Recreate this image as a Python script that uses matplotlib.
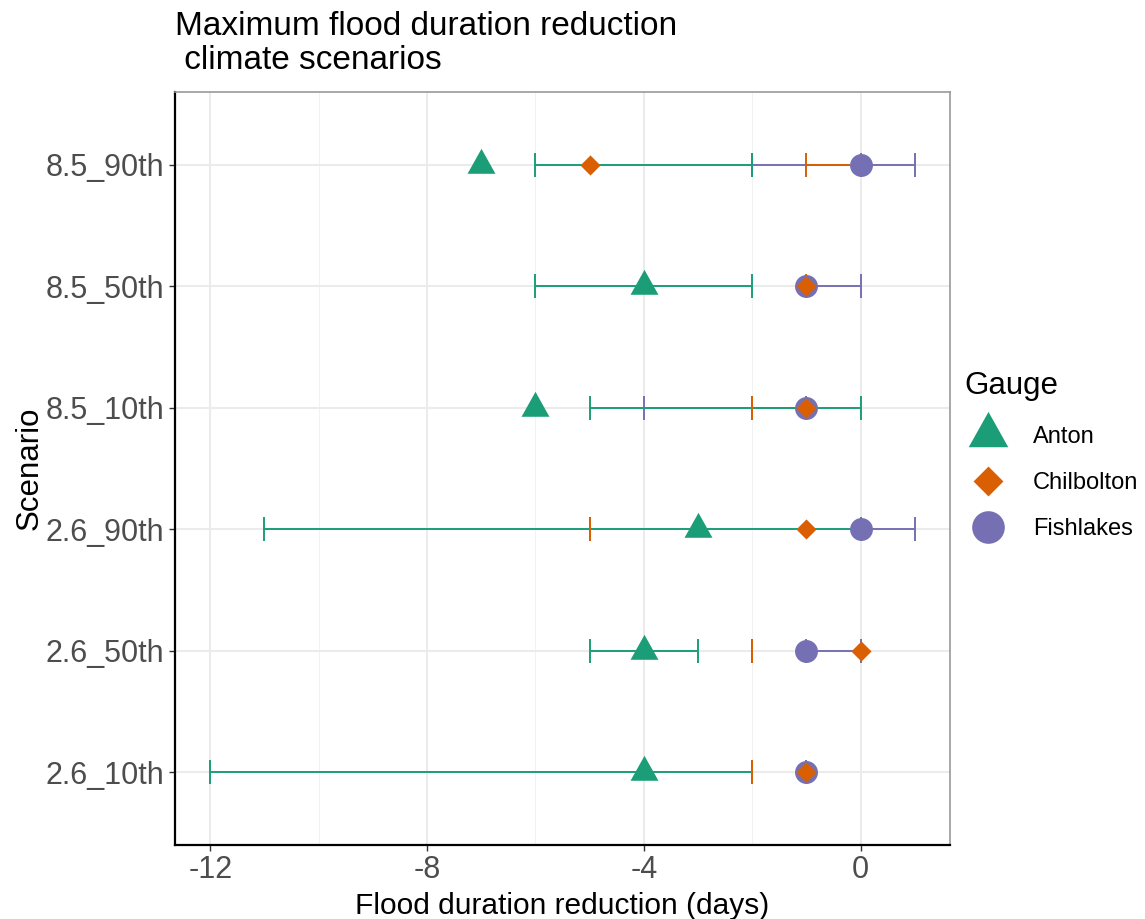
import matplotlib
matplotlib.use("Agg")
import matplotlib.pyplot as plt
from matplotlib.lines import Line2D
import numpy as np

plt.rcParams['font.family'] = ['Liberation Sans', 'DejaVu Sans']

# Scenarios, bottom to top
scenarios = ["2.6_10th", "2.6_50th", "2.6_90th", "8.5_10th", "8.5_50th", "8.5_90th"]

anton_val = [-4, -4, -3, -6, -4, -7]
anton_lo = [-12, -5, -11, -5, -6, -6]
anton_hi = [-2, -3, 0, 0, -2, -2]

chil_val = [-1, 0, -1, -1, -1, -5]
chil_lo = [-2, -2, -5, -2, -1, -1]
chil_hi = [-2, -2, -5, -2, -1, 0]

fish_val = [-1, -1, 0, -1, -1, 0]
fish_lo = [-1, -1, 0, -4, -1, -2]
fish_hi = [-1, 0, 1, -1, 0, 1]

gauges = ["Anton", "Chilbolton", "Fishlakes"]
colors = {"Anton": "#1B9E77", "Chilbolton": "#D95F02", "Fishlakes": "#7570B3"}

x_ticks = [-12, -8, -4, 0]
x_minor = [-10, -6, -2]

# marker shapes: centroid-centred triangle, diamond, circle
tri = [(0, 16.7), (-14, -8.3), (14, -8.3)]
dia = [(0, 1), (1, 0), (0, -1), (-1, 0)]
markers = {"Anton": (tri, 24), "Chilbolton": (dia, 14.5), "Fishlakes": ("o", 16.5)}

data = {
    "Anton": (anton_val, anton_lo, anton_hi),
    "Chilbolton": (chil_val, chil_lo, chil_hi),
    "Fishlakes": (fish_val, fish_lo, fish_hi),
}

fig = plt.figure(figsize=(11.45, 9.19), dpi=100)
ax = fig.add_axes([175 / 1145, 1 - 845 / 919, (950 - 175) / 1145, (845 - 92) / 919])

y = np.arange(1, len(scenarios) + 1)
cap = 0.1

# error bars
for g in ["Fishlakes", "Anton", "Chilbolton"]:
    v, lo, hi = data[g]
    ax.hlines(y, lo, hi, color=colors[g], lw=1.4, zorder=3)
    ax.vlines(lo, y - cap, y + cap, color=colors[g], lw=1.4, zorder=3)
    ax.vlines(hi, y - cap, y + cap, color=colors[g], lw=1.4, zorder=3)

# points
for g in ["Anton", "Fishlakes", "Chilbolton"]:
    v, lo, hi = data[g]
    m, ms = markers[g]
    ax.plot(v, y, linestyle="none", marker=m, markersize=ms, color=colors[g],
            markeredgewidth=0, zorder=4)

ax.set_xlim(-12.65, 1.65)
ax.set_ylim(0.4, 6.6)
ax.set_xticks(x_ticks)
ax.set_xticklabels([str(t) for t in x_ticks])
ax.set_xticks(x_minor, minor=True)
ax.set_yticks(y)
ax.set_yticklabels(scenarios)

ax.grid(True, which="major", color="#EBEBEB", lw=1.5, zorder=0)
ax.grid(True, which="minor", axis="x", color="#F2F2F2", lw=0.8, zorder=0)
ax.set_axisbelow(True)
ax.tick_params(axis="both", which="major", labelsize=22, labelcolor="#4D4D4D",
               color="#333333", length=4.5, width=1.0, pad=3)
ax.tick_params(axis="both", which="minor", length=0)

for s in ["top", "right"]:
    ax.spines[s].set_color("#999999")
    ax.spines[s].set_linewidth(1.2)
for s in ["left", "bottom"]:
    ax.spines[s].set_color("black")
    ax.spines[s].set_linewidth(1.6)

ax.set_xlabel("Flood duration reduction (days)", fontsize=21.5, labelpad=5)
ax.set_ylabel("Scenario", fontsize=22.5, labelpad=1)

fig.text(175 / 1145, 1 - 11 / 919, "Maximum flood duration reduction\n climate scenarios",
         fontsize=24, ha="left", va="top", linespacing=1.12)

handles = [
    Line2D([], [], linestyle="none", marker=tri, markersize=34, color=colors["Anton"], markeredgewidth=0),
    Line2D([], [], linestyle="none", marker=dia, markersize=21.5, color=colors["Chilbolton"], markeredgewidth=0),
    Line2D([], [], linestyle="none", marker="o", markersize=23.5, color=colors["Fishlakes"], markeredgewidth=0),
]
leg = fig.legend(handles, gauges, loc="upper left", bbox_to_anchor=(955 / 1145, 1 - 362 / 919),
                 frameon=False, title="Gauge", fontsize=17, title_fontsize=22.5,
                 handlelength=2.0, handletextpad=0.9, labelspacing=1.03, borderaxespad=0)
leg._legend_box.align = "left"

fig.savefig("out.png", dpi=100)
